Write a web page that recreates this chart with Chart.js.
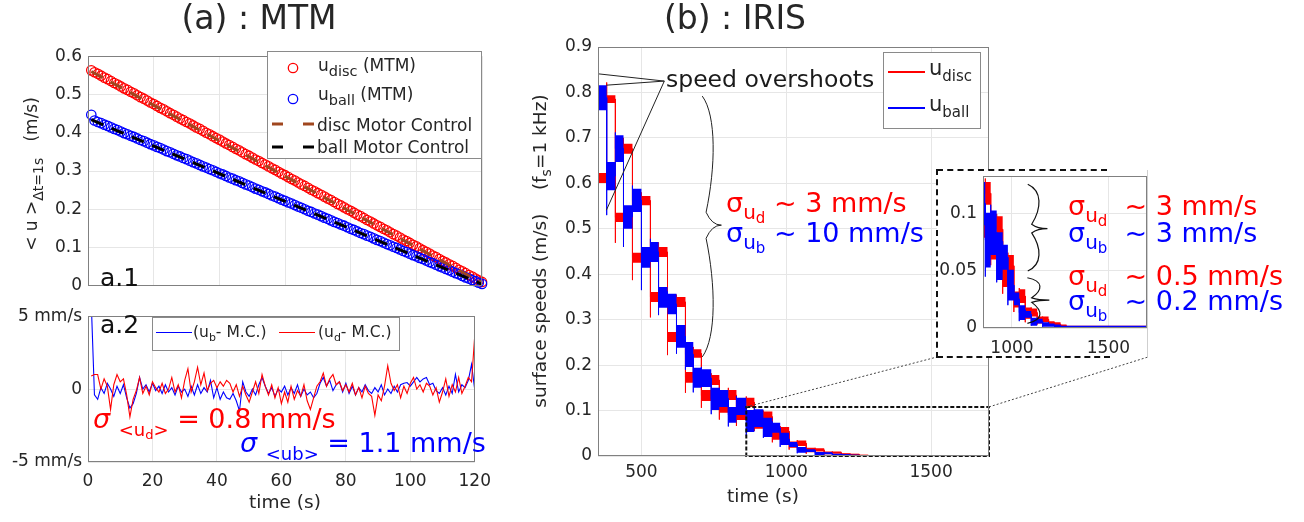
<!DOCTYPE html>
<html><head><meta charset="utf-8">
<script src="https://cdn.jsdelivr.net/npm/chart.js@4"></script>
<style>
body{margin:0;background:#fff;width:1304px;height:522px;position:relative;overflow:hidden;font-family:"DejaVu Sans",sans-serif;color:#262626}
canvas{position:absolute}
.t{position:absolute;white-space:nowrap;line-height:1;font-family:"DejaVu Sans",sans-serif}
.c{transform:translateX(-50%)}
.rot{transform:translate(-50%,-50%) rotate(-90deg)}
.sb{position:relative;}
.lg{position:absolute;background:#fff;border:1px solid #8a8a8a;box-sizing:border-box}
</style></head><body>
<canvas id="A" width="500" height="262" style="left:0;top:40px"></canvas>
<canvas id="B" width="500" height="222" style="left:0;top:300px"></canvas>
<canvas id="C" width="500" height="470" style="left:500px;top:30px"></canvas>
<svg id="conn" width="1304" height="522" style="position:absolute;left:0;top:0"></svg>
<div id="insetBg" style="position:absolute;left:937px;top:170px;width:211px;height:187px;background:#fff;box-sizing:border-box;border-right:1px solid #cfcfcf"></div>
<div style="position:absolute;left:937px;top:169px;width:170px;height:0;border-top:2px dashed #111"></div>
<div style="position:absolute;left:937px;top:356px;width:173px;height:0;border-top:2px dashed #111"></div>
<div style="position:absolute;left:936px;top:169px;width:0;height:189px;border-left:2px dashed #111"></div>
<canvas id="D" width="225" height="200" style="left:930px;top:160px"></canvas>

<!-- titles -->
<div class="t c" style="left:259px;top:1px;font-size:33px">(a) : MTM</div>
<div class="t c" style="left:735px;top:1px;font-size:33px">(b) : IRIS</div>
<div class="t rot" style="left:31px;top:174px;font-size:17px">&lt; u &gt;<span class="sb" style="font-size:14px;top:6px">Δt=1s</span>&nbsp;&nbsp;&nbsp;(m/s)</div>
<div class="t c" style="left:285px;top:493px;font-size:18.5px">time (s)</div>
<div class="t c" style="left:763px;top:487px;font-size:18.5px">time (s)</div>
<div class="t rot" style="left:540px;top:251px;font-size:18.5px">surface speeds (m/s)&nbsp;&nbsp;&nbsp;&nbsp;(f<span class="sb" style="font-size:14px;top:5px">s</span>=1 kHz)</div>
<div class="t" style="left:100px;top:265px;font-size:25px;color:#111">a.1</div>
<div class="t" style="left:100px;top:312px;font-size:25px;color:#111">a.2</div>

<!-- left annotations -->
<div class="t" style="left:93px;top:405px;font-size:27px;color:#f00"><i>σ</i> <span class="sb" style="font-size:18px;top:8px">&lt;u<span class="sb" style="font-size:13px;top:3px">d</span>&gt;</span> = 0.8 mm/s</div>
<div class="t" style="left:240px;top:429px;font-size:27px;color:#00f"><i>σ</i> <span class="sb" style="font-size:18px;top:8px">&lt;ub&gt;</span> = 1.1 mm/s</div>

<!-- right annotations -->
<div class="t" style="left:666px;top:68px;font-size:23.5px;color:#1a1a1a">speed overshoots</div>
<div class="t" style="left:726px;top:189px;font-size:27px;color:#f00">σ<span class="sb" style="font-size:20px;top:7px">u<span class="sb" style="font-size:15px;top:4px">d</span></span> ~ 3 mm/s</div>
<div class="t" style="left:726px;top:219px;font-size:27px;color:#00f">σ<span class="sb" style="font-size:20px;top:7px">u<span class="sb" style="font-size:15px;top:4px">b</span></span> ~ 10 mm/s</div>
<div class="t" style="left:1068px;top:192px;font-size:27px;color:#f00">σ<span class="sb" style="font-size:20px;top:7px">u<span class="sb" style="font-size:15px;top:4px">d</span></span>&nbsp; ~ 3 mm/s</div>
<div class="t" style="left:1068px;top:219px;font-size:27px;color:#00f">σ<span class="sb" style="font-size:20px;top:7px">u<span class="sb" style="font-size:15px;top:4px">b</span></span>&nbsp; ~ 3 mm/s</div>
<div class="t" style="left:1068px;top:262px;font-size:27px;color:#f00">σ<span class="sb" style="font-size:20px;top:7px">u<span class="sb" style="font-size:15px;top:4px">d</span></span>&nbsp; ~ 0.5 mm/s</div>
<div class="t" style="left:1068px;top:287px;font-size:27px;color:#00f">σ<span class="sb" style="font-size:20px;top:7px">u<span class="sb" style="font-size:15px;top:4px">b</span></span>&nbsp; ~ 0.2 mm/s</div>

<!-- legend A -->
<div class="lg" style="left:267px;top:51px;width:215px;height:108px"></div>
<svg width="60" height="110" style="position:absolute;left:262px;top:51px">
 <circle cx="31" cy="17" r="4.7" fill="none" stroke="#f00" stroke-width="1.3"/>
 <circle cx="31" cy="48" r="4.7" fill="none" stroke="#00f" stroke-width="1.3"/>
 <line x1="10" y1="73" x2="52" y2="73" stroke="#a0461e" stroke-width="3" stroke-dasharray="11 20"/>
 <line x1="10" y1="96" x2="52" y2="96" stroke="#000" stroke-width="3" stroke-dasharray="11 20"/>
</svg>
<div class="t" style="left:318px;top:57px;font-size:17px">u<span class="sb" style="font-size:14.5px;top:5px">disc</span> (MTM)</div>
<div class="t" style="left:318px;top:86px;font-size:17px">u<span class="sb" style="font-size:14.5px;top:5px">ball</span> (MTM)</div>
<div class="t" style="left:317px;top:117px;font-size:17px">disc Motor Control</div>
<div class="t" style="left:317px;top:139px;font-size:17px">ball Motor Control</div>

<!-- legend B -->
<div class="lg" style="left:152px;top:317px;width:248px;height:34px"></div>
<div style="position:absolute;left:156px;top:332px;width:36px;height:1.3px;background:#00f"></div>
<div style="position:absolute;left:279px;top:332px;width:36px;height:1.3px;background:#f00"></div>
<div class="t" style="left:193px;top:325px;font-size:15.5px">(u<span class="sb" style="font-size:11px;top:4px">b</span>- M.C.)</div>
<div class="t" style="left:318px;top:325px;font-size:15.5px">(u<span class="sb" style="font-size:11px;top:4px">d</span>- M.C.)</div>

<!-- legend C -->
<div class="lg" style="left:883px;top:52px;width:98px;height:77px"></div>
<div style="position:absolute;left:888px;top:71px;width:37px;height:1.5px;background:#f00"></div>
<div style="position:absolute;left:888px;top:107px;width:37px;height:1.5px;background:#00f"></div>
<div class="t" style="left:929px;top:58px;font-size:21px">u<span class="sb" style="font-size:15px;top:6px">disc</span></div>
<div class="t" style="left:929px;top:94px;font-size:21px">u<span class="sb" style="font-size:15px;top:6px">ball</span></div>

<script>
// ---------------- DATA ----------------
// (a.1) MTM mean speeds, one value per second (t = 1..120 s)
const mtmTime = Array.from({length:120},(_,i)=>i+1);
const uDisc = [0.563,0.558,0.554,0.549,0.544,0.540,0.535,0.530,0.526,0.521,0.516,0.512,0.507,0.503,0.498,0.493,0.489,0.484,0.479,0.475,
0.470,0.465,0.461,0.456,0.451,0.447,0.442,0.437,0.433,0.428,0.424,0.419,0.414,0.410,0.405,0.400,0.396,0.391,0.386,0.382,
0.377,0.372,0.368,0.363,0.358,0.354,0.349,0.344,0.340,0.335,0.330,0.326,0.321,0.317,0.312,0.307,0.303,0.298,0.293,0.289,
0.284,0.279,0.275,0.270,0.265,0.261,0.256,0.251,0.247,0.242,0.238,0.233,0.228,0.224,0.219,0.214,0.210,0.205,0.200,0.196,
0.191,0.186,0.182,0.177,0.172,0.168,0.163,0.158,0.154,0.149,0.145,0.140,0.135,0.131,0.126,0.121,0.117,0.112,0.107,0.103,
0.098,0.093,0.089,0.084,0.079,0.075,0.070,0.065,0.061,0.056,0.052,0.047,0.042,0.038,0.033,0.028,0.024,0.019,0.014,0.010];
const uBall = [0.447,0.432,0.428,0.425,0.421,0.418,0.414,0.410,0.407,0.403,0.399,0.396,0.392,0.389,0.385,0.381,0.378,0.374,0.370,0.367,
0.363,0.360,0.356,0.352,0.349,0.345,0.341,0.338,0.334,0.331,0.327,0.323,0.320,0.316,0.312,0.309,0.305,0.302,0.298,0.294,
0.291,0.287,0.283,0.280,0.276,0.273,0.269,0.265,0.262,0.258,0.254,0.251,0.247,0.244,0.240,0.236,0.233,0.229,0.225,0.222,
0.218,0.215,0.211,0.207,0.204,0.200,0.196,0.193,0.189,0.186,0.182,0.178,0.175,0.171,0.167,0.164,0.160,0.157,0.153,0.149,
0.146,0.142,0.138,0.135,0.131,0.128,0.124,0.120,0.117,0.113,0.109,0.106,0.102,0.099,0.095,0.091,0.088,0.084,0.080,0.077,
0.073,0.070,0.066,0.062,0.059,0.055,0.051,0.048,0.044,0.041,0.037,0.033,0.030,0.026,0.022,0.019,0.015,0.012,0.008,0.005];
const mcTime = [1,120];
const mcDisc = [0.560,0.008];
const mcBall = [0.434,0.004];

// (a.2) residuals in mm/s, t = 1..120 s
const resTime = Array.from({length:120},(_,i)=>i+1);
const resBall = [6,-0.4,-0.7,0.1,-0.3,0.4,0.0,-0.5,0.2,-0.3, 0.3,-0.6,-1.3,-1.0,-0.3,0.8,0.0,0.3,-0.2,0.4,
-0.1,0.2,-0.3,0.3,-0.2,0.1,-0.4,0.2,-0.2,0.0, -0.5,0.2,-0.4,0.3,-0.3,0.1,-0.2,0.6,-0.6,0.1,
-0.7,-0.2,-0.6,-0.7,-0.3,-0.8,-1.5,0.5,-0.2,-0.5, 0.0,-0.4,0.3,0.8,0.2,-0.3,0.1,-0.5,0.0,-0.2,
0.2,-0.4,0.1,-0.3,0.3,-0.5,0.0,-0.4,-0.2,-0.6, -0.3,0.4,0.8,0.2,0.6,-0.1,0.3,0.5,-0.2,0.4,
-0.3,0.2,-0.4,0.1,-0.2,0.3,-0.1,-0.3,0.1,-0.2, 0.3,-0.4,0.0,-0.3,0.2,-0.2,0.3,0.4,0.45,0.2,
0.5,0.8,0.5,0.7,0.8,0.3,0.4,-0.1,-0.3,0.1, -0.4,0.2,-0.3,1.0,-0.2,0.3,0.1,0.6,1.7,-0.05];
const resDisc = [0.9,1.0,1.0,0.0,0.7,0.2,-1.4,0.3,1.0,0.5, 0.7,-0.4,-1.9,-0.7,-0.1,0.8,-0.3,0.2,-0.4,0.5,
0.1,-0.2,0.4,-0.3,0.0,0.8,-0.2,0.3,-0.6,0.6, 1.4,-0.2,0.5,1.5,0.3,1.1,-0.1,0.4,0.6,0.1,
0.5,0.2,0.6,0.4,-0.2,0.3,-0.5,0.2,-0.4,-0.9, -0.2,0.5,-0.3,1.0,0.2,-0.4,0.3,-0.6,0.1,-1.0,
-0.2,-0.9,0.2,-0.7,-0.1,-0.5,0.3,-0.8,-1.4,-0.6, 0.2,0.5,1.1,0.2,0.7,1.0,0.3,0.5,-0.1,0.3,
-0.2,0.4,-0.4,0.1,-0.6,0.2,-0.3,-0.5,-1.8,-0.4, -0.8,0.2,1.6,0.4,-0.1,0.3,-0.6,0.2,-0.3,0.4,
0.8,0.0,0.3,-0.2,0.4,0.2,-0.4,0.1,-0.9,-0.2, 0.7,-0.5,0.3,-0.2,0.8,-0.3,0.2,0.8,0.5,3.7];

// (b) IRIS step commands: start time of each step (s), noise band [low, high] (m/s) and transient extremes
const stepTimes = [350,380,410,438,469,500,531,559,590,621,652,679,707,741,769,800,828,862,890,921,952,979,1010,1038,1069,1100,1131,1159,1190,1221,1252,1283];
const stepEnd = 1700;
const redLow  = [0.601,0.777,0.515,0.665,0.425,0.552,0.339,0.438,0.251,0.328,0.161,0.216,0.121,0.156,0.095,0.123,0.079,0.108,0.060,0.075,0.036,0.045,0.018,0.022,0.008,0.010,0.004,0.005,0.002,0.002,0.000,0.000];
const redHigh = [0.623,0.794,0.535,0.687,0.447,0.572,0.361,0.460,0.273,0.350,0.185,0.235,0.145,0.178,0.119,0.145,0.101,0.128,0.082,0.098,0.058,0.064,0.032,0.034,0.018,0.017,0.010,0.010,0.006,0.005,0.003,0.002];
const redSpike = [0.612,0.822,0.469,0.700,0.387,0.580,0.305,0.470,0.222,0.355,0.139,0.240,0.106,0.182,0.080,0.150,0.066,0.131,0.055,0.100,0.030,0.066,0.014,0.035,0.005,0.018,0.003,0.010,0.002,0.005,0.000,0.002];
const blueLow  = [0.761,0.585,0.647,0.500,0.537,0.414,0.427,0.326,0.312,0.238,0.196,0.150,0.152,0.101,0.108,0.073,0.090,0.053,0.064,0.042,0.051,0.024,0.020,0.007,0.009,0.002,0.004,0.001,0.001,0.000,0.000,0.000];
const blueHigh = [0.816,0.647,0.706,0.552,0.588,0.460,0.471,0.372,0.357,0.288,0.251,0.194,0.191,0.150,0.145,0.108,0.128,0.101,0.103,0.084,0.073,0.051,0.031,0.020,0.015,0.009,0.008,0.005,0.004,0.003,0.002,0.002];
const blueSpike = [0.585,0.530,0.712,0.460,0.595,0.365,0.478,0.310,0.362,0.225,0.190,0.140,0.196,0.092,0.150,0.065,0.132,0.045,0.108,0.040,0.076,0.020,0.030,0.006,0.016,0.002,0.009,0.001,0.005,0.000,0.002,0.001];
const blueStart = 0.843;
const redStart = 0.612;

// tick labels
const topYTicks = [0,0.1,0.2,0.3,0.4,0.5,0.6];
const timeTicks = [0,20,40,60,80,100,120];
const resYTicks = [-5,0,5];
const resYLabels = ['-5 mm/s','0','5 mm/s'];
const irisXTicks = [500,1000,1500];
const irisYTicks = [0,0.1,0.2,0.3,0.4,0.5,0.6,0.7,0.8,0.9];
const insetXTicks = [1000,1500];
const insetYTicks = [0,0.05,0.1];

// annotation anchors (data coordinates of panel b / inset)
const zoomBox = [862,1700,0,0.108];
const overshootFrom = [579,0.825];
const overshootTo = [[350,0.841],[379,0.816],[379,0.541]];
const braceB = [710,0.792,0.218,776,0.508];
const braceIn1 = [1082,0.126,0.050,1184,0.087];
const braceIn2 = [1080,0.044,0.004,1194,0.0245];

// ---------------- RENDER ----------------
const F = "'DejaVu Sans', sans-serif";
const TXT = '#262626', GRID = '#e6e6e6', BOX = '#808080';
const RED = '#ff0000', BLUE = '#0000ff';

const boxPlugin = {id:'box', afterDraw(c){const a=c.chartArea,x=c.ctx;x.save();x.strokeStyle=BOX;x.lineWidth=1;
  x.strokeRect(Math.round(a.left)+0.5,Math.round(a.top)+0.5,Math.round(a.right-a.left)-1,Math.round(a.bottom-a.top)-1);x.restore();}};

function axis(min,max,ticks,show,pad,fit,labels,size){
  return {type:'linear',min,max,
    afterBuildTicks:a=>{a.ticks=ticks.map(v=>({value:v}));},
    ticks:{display:show,padding:pad,color:TXT,font:{family:F,size:size||17},maxRotation:0,autoSkip:false,
      callback:v=>labels?labels[ticks.indexOf(v)]:String(v)},
    grid:{color:GRID,drawTicks:false,lineWidth:1},border:{display:false},afterFit:fit};
}
function opts(pad,x,y){return {animation:false,responsive:false,events:[],
  plugins:{legend:{display:false},tooltip:{enabled:false}},layout:{padding:pad},scales:{x,y}};}
const xy = (xs,ys)=>xs.map((t,i)=>({x:t,y:ys[i]}));

// panel a.1
new Chart(document.getElementById('A'),{type:'scatter',
  data:{datasets:[
    {data:xy(mcTime,mcBall),showLine:true,borderColor:'#000',borderWidth:3,borderDash:[13,9],pointRadius:0,order:0},
    {data:xy(mcTime,mcDisc),showLine:true,borderColor:'#a0461e',borderWidth:3,borderDash:[13,9],pointRadius:0,order:1},
    {data:xy(mtmTime,uBall),pointRadius:4.7,pointBorderColor:BLUE,pointBackgroundColor:'rgba(0,0,0,0)',pointBorderWidth:1.3,clip:8,order:2},
    {data:xy(mtmTime,uDisc),pointRadius:4.7,pointBorderColor:RED,pointBackgroundColor:'rgba(0,0,0,0)',pointBorderWidth:1.3,clip:8,order:3}
  ]},
  options:opts({left:0,top:12,right:18,bottom:6},
    axis(0,120,timeTicks,false,0,s=>{s.height=0;}),
    axis(0,0.6,topYTicks,true,6,s=>{s.width=88;})),
  plugins:[boxPlugin]});

// panel a.2
new Chart(document.getElementById('B'),{type:'scatter',
  data:{datasets:[
    {data:xy(resTime,resDisc),showLine:true,borderColor:RED,borderWidth:1.1,pointRadius:0,order:0},
    {data:xy(resTime,resBall),showLine:true,borderColor:BLUE,borderWidth:1.1,pointRadius:0,order:1}
  ]},
  options:opts({left:0,top:9,right:18,bottom:0},
    axis(0,120,timeTicks,true,9,s=>{s.height=60;}),
    axis(-5,5,resYTicks,true,6,s=>{s.width=88;},resYLabels)),
  plugins:[boxPlugin]});

// panel b datasets (shared with inset)
function bands(){
  const pts=(v)=>{const p=xy(stepTimes,v);p.push({x:stepEnd,y:v[v.length-1]});return p;};
  const trace=(lo,hi,sp,start)=>{const p=[];const mid=lo.map((l,i)=>(l+hi[i])/2);
    stepTimes.forEach((t,i)=>{p.push({x:t,y:i?mid[i-1]:start});p.push({x:t,y:sp[i]});p.push({x:t,y:mid[i]});});
    p.push({x:stepEnd,y:mid[mid.length-1]});return p;};
  return [
    {data:trace(blueLow,blueHigh,blueSpike,blueStart),showLine:true,borderColor:BLUE,borderWidth:1,pointRadius:0,order:0},
    {data:pts(blueHigh),showLine:true,stepped:true,borderWidth:0,borderColor:'rgba(0,0,0,0)',backgroundColor:BLUE,fill:'+1',pointRadius:0,order:1},
    {data:pts(blueLow),showLine:true,stepped:true,borderWidth:0,borderColor:'rgba(0,0,0,0)',pointRadius:0,order:2},
    {data:trace(redLow,redHigh,redSpike,redStart),showLine:true,borderColor:RED,borderWidth:1,pointRadius:0,order:3},
    {data:pts(redHigh),showLine:true,stepped:true,borderWidth:0,borderColor:'rgba(0,0,0,0)',backgroundColor:RED,fill:'+1',pointRadius:0,order:4},
    {data:pts(redLow),showLine:true,stepped:true,borderWidth:0,borderColor:'rgba(0,0,0,0)',pointRadius:0,order:5}
  ];
}
function brace(ctx,x,yT,yB,xt,yt){const w=xt-x;ctx.beginPath();ctx.moveTo(x,yT);
  ctx.bezierCurveTo(x+w*0.75,yT+(yt-yT)*0.15,x+w*0.7,yt-(yt-yT)*0.45,x+w*0.2,yt-(yt-yT)*0.1);
  ctx.quadraticCurveTo(x+w*0.5,yt,xt,yt);
  ctx.quadraticCurveTo(x+w*0.5,yt,x+w*0.2,yt+(yB-yt)*0.1);
  ctx.bezierCurveTo(x+w*0.7,yt+(yB-yt)*0.45,x+w*0.75,yB-(yB-yt)*0.15,x,yB);ctx.stroke();}
function drawBrace(c,b){const X=c.scales.x,Y=c.scales.y;
  brace(c.ctx,X.getPixelForValue(b[0]),Y.getPixelForValue(b[1]),Y.getPixelForValue(b[2]),X.getPixelForValue(b[3]),Y.getPixelForValue(b[4]));}

const annoC={id:'annoC',afterDatasetsDraw(c){const X=c.scales.x,Y=c.scales.y,ctx=c.ctx;
  const P=(a,b)=>[X.getPixelForValue(a),Y.getPixelForValue(b)];ctx.save();
  ctx.setLineDash([4,2]);ctx.lineWidth=2;ctx.strokeStyle='#111';
  const p0=P(zoomBox[0],zoomBox[2]),p1=P(zoomBox[1],zoomBox[3]);
  ctx.strokeRect(p0[0],p1[1],p1[0]-p0[0],p0[1]-p1[1]);
  ctx.setLineDash([]);ctx.lineWidth=1;ctx.strokeStyle='#222';
  const o=P(overshootFrom[0],overshootFrom[1]);
  overshootTo.forEach(q=>{const r=P(q[0],q[1]);ctx.beginPath();ctx.moveTo(o[0],o[1]);ctx.lineTo(r[0],r[1]);ctx.stroke();});
  drawBrace(c,braceB);ctx.restore();}};

const chartC=new Chart(document.getElementById('C'),{type:'scatter',
  data:{datasets:bands()},
  options:opts({left:0,top:17,right:11,bottom:0},
    axis(350,1700,irisXTicks,true,6,s=>{s.height=44;}),
    axis(0,0.9,irisYTicks,true,6,s=>{s.width=98;})),
  plugins:[annoC,boxPlugin]});

const annoD={id:'annoD',afterDatasetsDraw(c){const ctx=c.ctx;ctx.save();ctx.lineWidth=1.2;ctx.strokeStyle='#111';
  drawBrace(c,braceIn1);drawBrace(c,braceIn2);ctx.restore();}};
new Chart(document.getElementById('D'),{type:'scatter',
  data:{datasets:bands()},
  options:opts({left:0,top:10,right:8,bottom:0},
    axis(850,1700,insetXTicks,true,10,s=>{s.height=32;}),
    axis(0,0.133,insetYTicks,true,6,s=>{s.width=53;})),
  plugins:[annoD,boxPlugin]});

// dotted connectors between zoom box and inset
(function(){const X=chartC.scales.x,Y=chartC.scales.y,ox=500,oy=30;
  const ib=document.getElementById('insetBg');const L=ib.offsetLeft,T=ib.offsetTop,R=L+ib.offsetWidth,B=T+ib.offsetHeight;
  const a=[ox+X.getPixelForValue(zoomBox[0]),oy+Y.getPixelForValue(zoomBox[3])];
  const b=[ox+X.getPixelForValue(zoomBox[1]),oy+Y.getPixelForValue(zoomBox[3])];
  const svg=document.getElementById('conn');
  svg.innerHTML=`<line x1="${a[0]}" y1="${a[1]}" x2="${L}" y2="${B}" stroke="#444" stroke-width="1" stroke-dasharray="2 2"/>`+
   `<line x1="${b[0]}" y1="${b[1]}" x2="${R}" y2="${B}" stroke="#444" stroke-width="1" stroke-dasharray="2 2"/>`;})();
</script>
</body></html>
